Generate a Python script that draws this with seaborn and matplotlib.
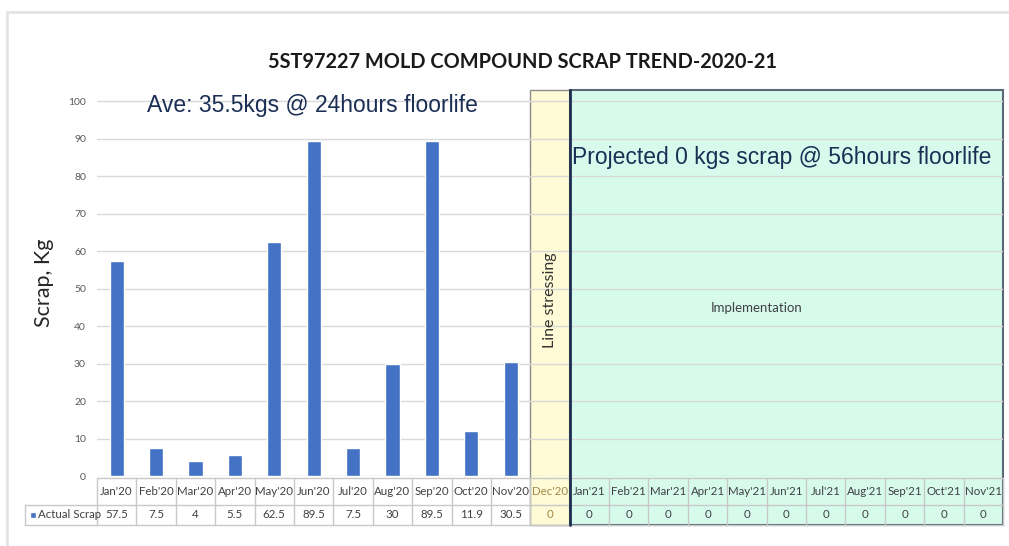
import numpy as np
import pandas as pd
import matplotlib.pyplot as plt
import seaborn as sns
from matplotlib.patches import Rectangle
from matplotlib.lines import Line2D

# Data
months = ["Jan'20", "Feb'20", "Mar'20", "Apr'20", "May'20", "Jun'20", "Jul'20", "Aug'20",
          "Sep'20", "Oct'20", "Nov'20", "Dec'20", "Jan'21", "Feb'21", "Mar'21", "Apr'21",
          "May'21", "Jun'21", "Jul'21", "Aug'21", "Sep'21", "Oct'21", "Nov'21"]
scrap = [57.5, 7.5, 4, 5.5, 62.5, 89.5, 7.5, 30, 89.5, 11.9, 30.5,
         0, 0, 0, 0, 0, 0, 0, 0, 0, 0, 0, 0]
value_labels = ["57.5", "7.5", "4", "5.5", "62.5", "89.5", "7.5", "30", "89.5", "11.9", "30.5",
                "0", "0", "0", "0", "0", "0", "0", "0", "0", "0", "0", "0"]
y_ticks = [0, 10, 20, 30, 40, 50, 60, 70, 80, 90, 100]

df = pd.DataFrame({"Month": months, "Scrap": scrap})

sns.set_style("white")
plt.rcParams['font.family'] = ['Lato', 'DejaVu Sans']

W, H = 1009, 546
fig = plt.figure(figsize=(W / 100, H / 100), dpi=100)
ax = fig.add_axes([97 / W, 70 / H, 906 / W, 386 / H])

sns.barplot(data=df, x="Month", y="Scrap", color="#4472C4", saturation=1, width=0.36, ax=ax, zorder=2)

ax.set_ylim(0, 103)
ax.set_xlim(-0.5, len(months) - 0.5)
ax.set_yticks(y_ticks)
ax.set_yticklabels([str(t) for t in y_ticks], color="#595959", fontsize=7.5)
ax.tick_params(axis="y", length=0, pad=8)
ax.set_xticks([])
ax.set_xlabel("")
ax.set_ylabel("Scrap, Kg", fontsize=15.5, color="#262626", labelpad=10)
ax.yaxis.grid(True, color="#D9D9D9", linewidth=1)
ax.set_axisbelow(True)
for s in ax.spines.values():
    s.set_visible(False)

trans = ax.get_xaxis_transform()
y_bot = (476 - 525) / 386
y_mid = (476 - 505) / 386
y_top = (476 - 478) / 386

# shaded regions
n = len(months)
dec_i = months.index("Dec'20")
ax.add_patch(Rectangle((dec_i - 0.5, y_bot), 1, 1 - y_bot, transform=trans,
                       facecolor="#FFFBD6", edgecolor="#8C8C8C", lw=1, clip_on=False, zorder=0.2))
ax.add_patch(Rectangle((dec_i + 0.5, y_bot), n - dec_i - 1, 1 - y_bot, transform=trans,
                       facecolor="#D6FBEC", edgecolor="#5A6878", lw=1.5, clip_on=False, zorder=0.2))
ax.add_line(Line2D([dec_i + 0.5, dec_i + 0.5], [y_bot, 1], transform=trans,
                   color="#1F2F4F", lw=2, clip_on=False, zorder=3))

# data table under the chart
leg_x = -0.5 - 72 / 39.4
tcol = "#C8C8C8"
ax.add_line(Line2D([-0.5, n - 0.5], [y_top, y_top], transform=trans, color=tcol, lw=1, clip_on=False, zorder=1))
ax.add_line(Line2D([leg_x, n - 0.5], [y_mid, y_mid], transform=trans, color=tcol, lw=1, clip_on=False, zorder=1))
ax.add_line(Line2D([leg_x, n - 0.5], [y_bot, y_bot], transform=trans, color=tcol, lw=1, clip_on=False, zorder=1))
ax.add_line(Line2D([leg_x, leg_x], [y_mid, y_bot], transform=trans, color=tcol, lw=1, clip_on=False, zorder=1))
for i in range(n + 1):
    ax.add_line(Line2D([i - 0.5, i - 0.5], [y_top, y_bot], transform=trans, color=tcol,
                       lw=1, clip_on=False, zorder=1))

for i, (m, v) in enumerate(zip(months, value_labels)):
    c = "#A3874A" if i == dec_i else "#404040"
    ax.text(i, (y_top + y_mid) / 2, m, transform=trans, ha="center", va="center",
            fontsize=8.3, color=c, clip_on=False)
    ax.text(i, (y_mid + y_bot) / 2, v, transform=trans, ha="center", va="center",
            fontsize=8.3, color=c, clip_on=False)

ax.add_patch(Rectangle((leg_x + 0.12, (y_mid + y_bot) / 2 - 0.008), 0.15, 0.016,
                       transform=trans, facecolor="#4472C4", clip_on=False, zorder=3))
ax.text(leg_x + 0.32, (y_mid + y_bot) / 2, "Actual Scrap", transform=trans, ha="left", va="center",
        fontsize=8.3, color="#404040", clip_on=False)

# annotations
ax.text(0.77, 98.9, "Ave: 35.5kgs @ 24hours floorlife", fontsize=16.5, color="#1B2F55",
        family=["Liberation Sans", "DejaVu Sans"], va="center", ha="left")
ax.text(11.55, 85, "Projected 0 kgs scrap @ 56hours floorlife", fontsize=16.5, color="#1B2F55",
        family=["Liberation Sans", "DejaVu Sans"], va="center", ha="left")
ax.text(dec_i, 47, "Line stressing", rotation=90, fontsize=11.5, color="#333333",
        ha="center", va="center")
ax.text(16.25, 44.8, "Implementation", fontsize=9.5, color="#404040", ha="center", va="center")

fig.text(522 / W, 1 - 62 / H, "5ST97227 MOLD COMPOUND SCRAP TREND-2020-21", fontsize=14.4,
         fontweight="bold", color="#1A1A1A", ha="center", va="center")

# outer frame
fig.add_artist(Line2D([7 / W, 1], [1 - 12 / H, 1 - 12 / H], transform=fig.transFigure, color="#E3E3E3", lw=2))
fig.add_artist(Line2D([7 / W, 7 / W], [0, 1 - 12 / H], transform=fig.transFigure, color="#E3E3E3", lw=2))

fig.savefig("out.png", dpi=100)
